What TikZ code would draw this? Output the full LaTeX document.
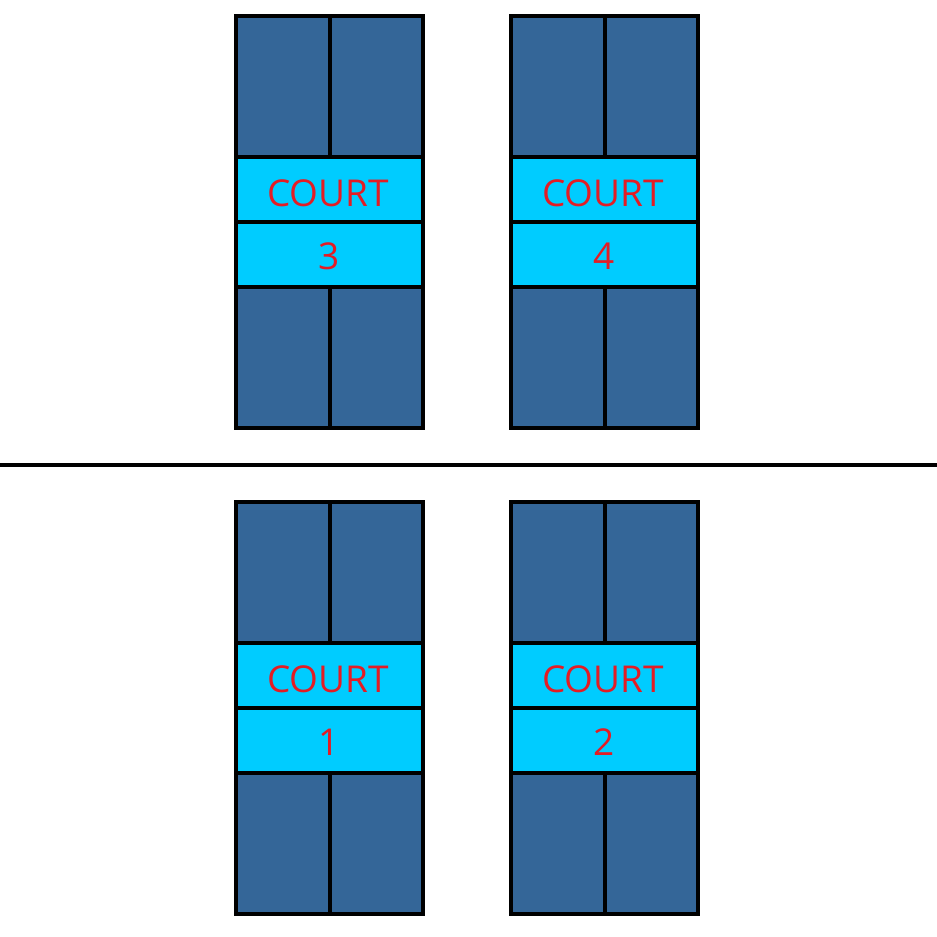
\documentclass[tikz,border=0pt]{standalone}
\usepackage{fontspec}
\setmainfont{Open Sans}
\definecolor{courtblue}{RGB}{52,102,152}
\definecolor{bandcyan}{RGB}{0,204,255}
\definecolor{labelred}{RGB}{228,28,36}
\tikzset{
  courtline/.style={line width=4pt},
  courtlabel/.style={text=labelred,font=\fontsize{37}{40}\selectfont,inner sep=0pt}
}
\begin{document}
\begin{tikzpicture}[x=1pt,y=-1pt]
\useasboundingbox (0,0) rectangle (937,937);
% Four courts
\foreach \cx/\cy/\num in {236/16/3, 511/16/4, 236/502/1, 511/502/2} {
  % Playing areas and centre bands
  \fill[courtblue] (\cx,\cy) rectangle ++(187,412);
  \fill[bandcyan] (\cx,\cy+141) rectangle ++(187,130);
  % Lines
  \draw[courtline] (\cx,\cy) rectangle ++(187,412);
  \draw[courtline] (\cx+93.5,\cy) -- ++(0,141);
  \draw[courtline] (\cx+93.5,\cy+271) -- ++(0,141);
  \draw[courtline] (\cx,\cy+141) -- ++(187,0);
  \draw[courtline] (\cx,\cy+206) -- ++(187,0);
  \draw[courtline] (\cx,\cy+271) -- ++(187,0);
  % Labels
  \node[courtlabel] (court\num) at (\cx+92,\cy+177) {COURT};
  \node[courtlabel] (num\num) at (\cx+93.5,\cy+240) {\num};
}
% Divider
\draw[line width=3.5pt] (0,465) -- (937,465);
\end{tikzpicture}
\end{document}
